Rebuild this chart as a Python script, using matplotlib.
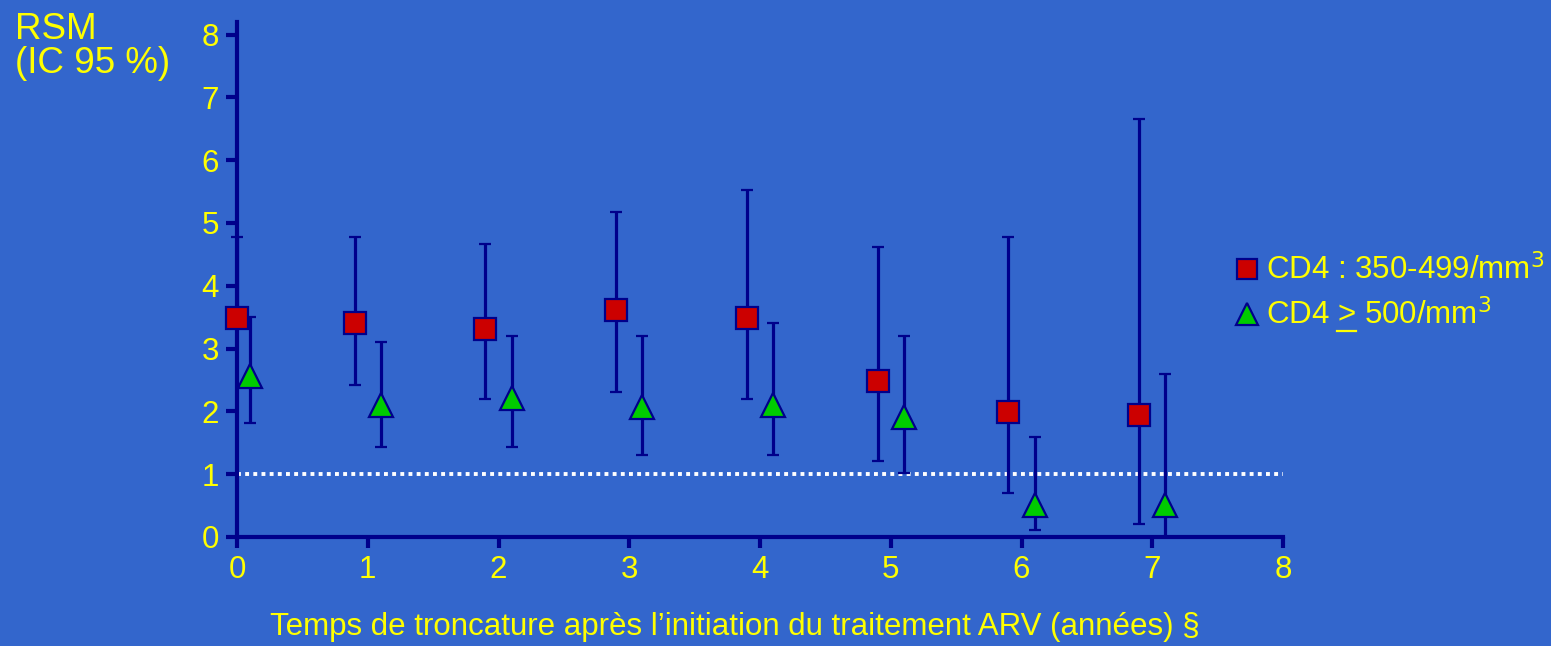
import numpy as np
import matplotlib.pyplot as plt
from matplotlib.lines import Line2D

# RSM estimates with 95% CI, by truncation time after ARV start
years = [0, 1, 2, 3, 4, 5, 6, 7]
rsm_350 = [3.48, 3.40, 3.31, 3.61, 3.48, 2.48, 1.99, 1.94]
low_350 = [np.nan, 2.42, 2.19, 2.31, 2.19, 1.21, 0.70, 0.21]  # first lower bound not shown
high_350 = [4.78, 4.77, 4.67, 5.17, 5.52, 4.61, 4.77, 6.66]
rsm_500 = [2.56, 2.10, 2.21, 2.07, 2.10, 1.91, 0.51, 0.51]
low_500 = [1.81, 1.43, 1.43, 1.30, 1.30, 1.02, 0.11, 0.00]
high_500 = [3.50, 3.10, 3.20, 3.20, 3.40, 3.20, 1.59, 2.59]

BG = "#3366cc"
NAVY = "#00008b"
YELLOW = "#ffff00"

plt.rcParams["font.family"] = ["Liberation Sans", "DejaVu Sans"]

fig = plt.figure(figsize=(15.51, 6.46), dpi=100, facecolor=BG)
ax = fig.add_axes([237 / 1551, 109 / 646, 1046 / 1551, 515 / 646])
ax.set_facecolor(BG)

x_red = [max(y - 0.1, 0) for y in years]
x_green = [y + 0.1 for y in years]

ax.axhline(1, xmin=0, xmax=1, color="white", lw=2.8, ls=(0, (1, 1.1)), zorder=1)


def ci(mid, low, high):
    lo = [0 if np.isnan(l) else m - l for m, l in zip(mid, low)]
    hi = [h - m for m, h in zip(mid, high)]
    return [lo, hi]


err_style = dict(ecolor=NAVY, elinewidth=2.3, capsize=4.5, capthick=2.3,
                 clip_on=False, zorder=3)
ax.errorbar(x_red, rsm_350, yerr=ci(rsm_350, low_350, high_350),
            fmt="s", ms=16, mfc="#cc0000", mec=NAVY, mew=1.6, **err_style)
ax.errorbar(x_green, rsm_500, yerr=ci(rsm_500, low_500, high_500),
            fmt="^", ms=17, mfc="#00cc00", mec=NAVY, mew=1.6, **err_style)

ax.set_xlim(0, 8)
ax.set_ylim(0, 8.2)
ax.set_xticks(range(0, 9))
ax.set_yticks(range(0, 9))
for side in ("top", "right"):
    ax.spines[side].set_visible(False)
for side in ("left", "bottom"):
    ax.spines[side].set_color(NAVY)
    ax.spines[side].set_linewidth(3)
ax.spines["bottom"].set_bounds(0, 8)
ax.tick_params(colors=NAVY, labelcolor=YELLOW, labelsize=22.5,
               length=8, width=3, direction="out", pad=5)

fig.text(15 / 1551, 1 - 12 / 646, "RSM\n(IC 95 %)", color=YELLOW,
         fontsize=26.5, va="top", ha="left", linespacing=0.95)
fig.text(735 / 1551, 19 / 646,
         "Temps de troncature après l’initiation du traitement ARV (années) §",
         color=YELLOW, fontsize=22.5, ha="center", va="center")

handles = [
    Line2D([], [], ls="none", marker="s", ms=14, mfc="#cc0000", mec=NAVY, mew=1.6),
    Line2D([], [], ls="none", marker="^", ms=16, mfc="#00cc00", mec=NAVY, mew=1.6),
]
labels = ["CD4 : 350-499/mm$^3$", "CD4 > 500/mm$^3$"]
leg = fig.legend(handles, labels, loc="center left",
                 bbox_to_anchor=(1238 / 1551, 1 - 293 / 646),
                 frameon=False, fontsize=22.5, labelcolor=YELLOW,
                 handlelength=0.6, handletextpad=0.3, labelspacing=0.4,
                 borderaxespad=0, borderpad=0)

# underline the ">" of the second label so it reads as "greater or equal"
fig.canvas.draw()
renderer = fig.canvas.get_renderer()
label = leg.get_texts()[1]
box = label.get_window_extent(renderer)
props = label.get_fontproperties()
probe = fig.text(0, 0, "CD4 >", fontproperties=props)
w_prefix = probe.get_window_extent(renderer).width
probe.set_text(">")
w_gt = probe.get_window_extent(renderer).width
probe.remove()
x1 = box.x0 + w_prefix
x0 = x1 - w_gt
fig.add_artist(Line2D([x0, x1], [box.y0 + 1, box.y0 + 1], transform=None,
                      color=YELLOW, lw=1.6))

fig.savefig("out.png", dpi=100, facecolor=BG)
